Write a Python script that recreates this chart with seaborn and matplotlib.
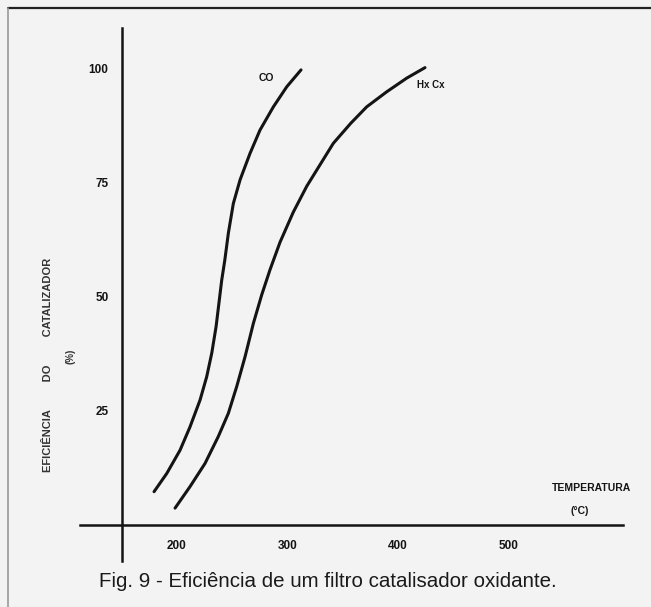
import matplotlib
matplotlib.use("Agg")
import matplotlib.pyplot as plt
from matplotlib.lines import Line2D
import seaborn as sns

# Curves (temperature in °C, efficiency in %)
co_temp = [179.3, 190.8, 202.8, 211.8, 220.9, 226.9, 231.5, 235.4, 238.3, 240.5,
           243.3, 246.5, 251.0, 257.1, 266.1, 275.1, 287.2, 299.3, 312.2]
co_eff = [7.3, 11.3, 16.4, 21.5, 27.4, 32.5, 37.7, 43.5, 49.3, 53.7,
          58.1, 64.0, 70.5, 75.7, 81.5, 86.6, 91.7, 96.1, 99.8]

hc_temp = [198.3, 211.8, 225.4, 237.4, 246.5, 254.1, 261.6, 269.1, 276.7, 284.2,
           293.2, 305.2, 317.4, 329.4, 341.4, 357.2, 371.6, 389.7, 407.8, 424.3]
hc_eff = [3.7, 8.4, 13.5, 19.4, 24.5, 30.4, 36.9, 44.2, 50.5, 56.0,
          62.0, 68.6, 74.3, 79.0, 83.7, 88.1, 91.7, 95.0, 98.0, 100.3]

x_ticks = [200, 300, 400, 500]
y_ticks = [25, 50, 75, 100]

sns.set_theme(style="white")
plt.rcParams["font.family"] = ["Liberation Sans", "DejaVu Sans"]

bg = "#f3f3f3"
ink = "#141414"

fig = plt.figure(figsize=(6.51, 6.07), dpi=100, facecolor=bg)
ax = fig.add_axes([0.1189, 0.060, 0.8409, 0.9165])
ax.set_facecolor(bg)

sns.lineplot(x=co_temp, y=co_eff, sort=False, estimator=None, color=ink, lw=2.2, ax=ax)
sns.lineplot(x=hc_temp, y=hc_eff, sort=False, estimator=None, color=ink, lw=2.2, ax=ax)

ax.set_xlim(110, 605)
ax.set_ylim(-10, 112)

# axes drawn as crossing lines, like the hand-drawn original
for side in ["top", "right"]:
    ax.spines[side].set_visible(False)
ax.spines["left"].set_position(("data", 150))
ax.spines["bottom"].set_position(("data", 0))
ax.spines["left"].set_bounds(-8, 109)
ax.spines["bottom"].set_bounds(112, 603)
for side in ["left", "bottom"]:
    ax.spines[side].set_color(ink)
    ax.spines[side].set_linewidth(1.8)

ax.set_xticks(x_ticks)
ax.set_yticks(y_ticks)
ax.set_xticklabels([str(v) for v in x_ticks], fontsize=8.5, fontweight="bold", color=ink)
ax.set_yticklabels([str(v) for v in y_ticks], fontsize=8.5, fontweight="bold", color=ink)
ax.tick_params(axis="x", direction="inout", length=7, width=1.2, color="#555555", pad=7)
ax.tick_params(axis="y", direction="inout", length=9, width=1.2, color="#555555", pad=5)
ax.set_xlabel("")
ax.set_ylabel("")

ax.text(281, 98, "CO", fontsize=7.5, fontweight="bold", color=ink, ha="center", va="center")
ax.text(417, 96.5, "Hx Cx", fontsize=7, fontweight="bold", color=ink, ha="left", va="center")

fig.text(592 / 651, 1 - 488 / 607, "TEMPERATURA", fontsize=7.5, fontweight="bold",
         color=ink, ha="center", va="center")
fig.text(580 / 651, 1 - 511 / 607, "(°C)", fontsize=7.5, fontweight="bold",
         color=ink, ha="center", va="center")

fig.text(47.7 / 651, 1 - 365 / 607, "EFICIÊNCIA         DO         CATALIZADOR", fontsize=8,
         fontweight="bold", color="#333333", rotation=90, ha="center", va="center")
fig.text(70 / 651, 1 - 356 / 607, "(%)", fontsize=7, fontweight="bold",
         color="#333333", rotation=90, ha="center", va="center")

fig.text(328 / 651, 1 - 581.5 / 607, "Fig. 9 - Eficiência de um filtro catalisador oxidante.",
         fontsize=14.8, color="#1a1a1a", ha="center", va="center",
         family=["Liberation Sans Narrow", "Liberation Sans", "DejaVu Sans"])

# page border of the scan
fig.add_artist(Line2D([8 / 651, 1], [1 - 8 / 607, 1 - 8 / 607], color="#222222", lw=1.6))
fig.add_artist(Line2D([8 / 651, 8 / 651], [0, 1 - 8 / 607], color="#9a9a9a", lw=1.2))

fig.savefig("out.png", dpi=100, facecolor=bg)
